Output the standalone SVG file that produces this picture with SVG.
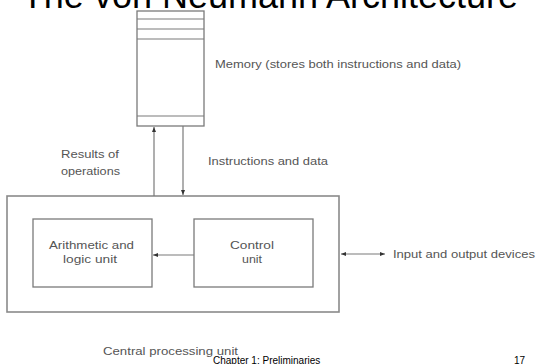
<svg xmlns="http://www.w3.org/2000/svg" width="537" height="364" viewBox="0 0 537 364">
<defs>
<style>
.box{fill:#fff;stroke:#7a7a7a;stroke-width:1.3}
.outer{fill:none;stroke:#8a8a8a;stroke-width:1.6}
.line{stroke:#7a7a7a;stroke-width:1.2;fill:none}
.lbl{font-family:"Liberation Sans",Arial,sans-serif;font-size:10.5px;fill:#555}
.ftr{font-family:"Liberation Sans",Arial,sans-serif;font-size:10px;fill:#000}
.title{font-family:"Liberation Sans",Arial,sans-serif;font-size:36px;fill:#000}
</style>
<marker id="ah" viewBox="0 0 10 10" refX="10" refY="5" markerWidth="5" markerHeight="5" orient="auto-start-reverse" markerUnits="userSpaceOnUse">
<path d="M0,1 L10,5 L0,9 z" fill="#333"/>
</marker>
</defs>
<rect width="537" height="364" fill="#fff"/>

<g id="memory">
<rect class="box" x="137" y="11" width="67" height="115"/>
<line class="line" x1="137" y1="19" x2="204" y2="19"/>
<line class="line" x1="137" y1="29" x2="204" y2="29"/>
<line class="line" x1="137" y1="39" x2="204" y2="39"/>
<line class="line" x1="137" y1="116" x2="204" y2="116"/>
<text class="lbl" x="215" y="68" textLength="246" lengthAdjust="spacingAndGlyphs">Memory (stores both instructions and data)</text>
</g>

<text class="title" x="270" y="8" text-anchor="middle">The von Neumann Architecture</text>

<g id="cpu">
<rect class="outer" x="7" y="196" width="332" height="116"/>
<text class="lbl" x="103" y="355" textLength="135" lengthAdjust="spacingAndGlyphs">Central processing unit</text>
</g>

<g id="alu">
<rect class="box" x="33" y="219" width="119" height="68"/>
<text class="lbl" x="49" y="249" textLength="85" lengthAdjust="spacingAndGlyphs">Arithmetic and</text>
<text class="lbl" x="63" y="263" textLength="54" lengthAdjust="spacingAndGlyphs">logic unit</text>
</g>

<g id="control">
<rect class="box" x="194" y="219" width="119" height="68"/>
<text class="lbl" x="230" y="249" textLength="44" lengthAdjust="spacingAndGlyphs">Control</text>
<text class="lbl" x="242" y="263" textLength="20" lengthAdjust="spacingAndGlyphs">unit</text>
</g>

<g id="io">
<text class="lbl" x="393" y="258" textLength="142" lengthAdjust="spacingAndGlyphs">Input and output devices</text>
</g>

<g id="connectors">
<line class="line" x1="154" y1="196" x2="154" y2="127" marker-end="url(#ah)"/>
<line class="line" x1="183" y1="126" x2="183" y2="195" marker-end="url(#ah)"/>
<line class="line" x1="194" y1="255" x2="153" y2="255" marker-end="url(#ah)"/>
<line class="line" x1="341" y1="254" x2="385" y2="254" marker-start="url(#ah)" marker-end="url(#ah)"/>
<text class="lbl" x="61" y="158" textLength="58" lengthAdjust="spacingAndGlyphs">Results of</text>
<text class="lbl" x="61" y="175" textLength="59" lengthAdjust="spacingAndGlyphs">operations</text>
<text class="lbl" x="208" y="165" textLength="120" lengthAdjust="spacingAndGlyphs">Instructions and data</text>
</g>

<text class="ftr" x="213" y="364">Chapter 1: Preliminaries</text>
<text class="ftr" x="514" y="364">17</text>
</svg>
